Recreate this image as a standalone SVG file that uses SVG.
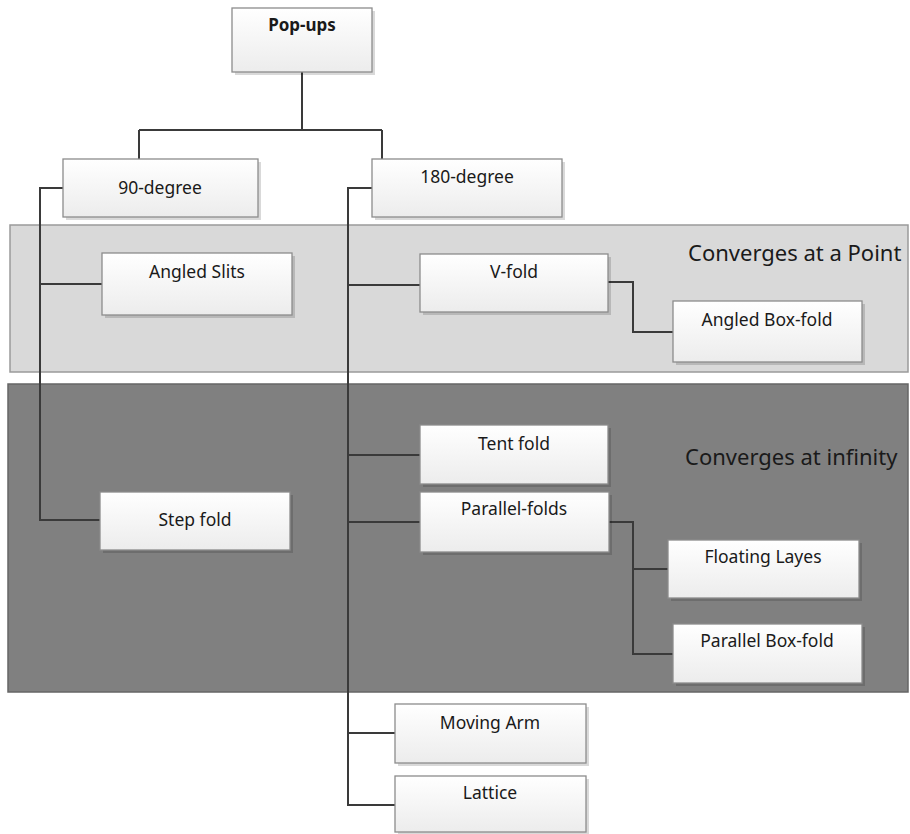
<svg xmlns="http://www.w3.org/2000/svg" width="910" height="834" viewBox="0 0 910 834">
<defs>
<linearGradient id="g" x1="0" y1="0" x2="0" y2="1">
<stop offset="0" stop-color="#ffffff"/>
<stop offset="1" stop-color="#ececec"/>
</linearGradient>
</defs>
<style>
.box{fill:url(#g);stroke:#8c8c8c;stroke-width:1.3}
.sh{fill:#000;opacity:0.15}
.t{font-family:"Noto Sans","Open Sans",sans-serif;font-size:17.5px;fill:#1a1a1a;text-anchor:middle}
.b{font-weight:bold;font-size:17px}
.band{font-family:"Noto Sans","Open Sans",sans-serif;font-size:22px;fill:#1a1a1a}
.c{fill:none;stroke:#3a3a3a;stroke-width:2}
</style>
<rect width="910" height="834" fill="#ffffff"/>
<g id="band-point">
<rect x="10" y="225" width="898" height="147" fill="#d9d9d9" stroke="#9a9a9a" stroke-width="1.5"/>
<text class="band" x="688" y="261">Converges at a Point</text>
</g>
<g id="band-infinity">
<rect x="8" y="384" width="900" height="308" fill="#808080" stroke="#666" stroke-width="1.5"/>
<text class="band" x="685" y="465">Converges at infinity</text>
</g>
<g id="connectors">
<path class="c" d="M302 72 V130 M139 130 H382 M139 130 V159 M382 130 V159"/>
<path class="c" d="M63 188 H40 V520 H100 M40 284 H102"/>
<path class="c" d="M372 188 H348 V805 H395 M348 285 H420 M348 455 H420 M348 522 H420 M348 733 H395"/>
<path class="c" d="M608 282 H633 V332 H673"/>
<path class="c" d="M609 522 H633 V654 H673 M633 569 H668"/>
</g>
<g id="n-popups"><rect class="sh" x="235" y="11" width="140" height="64"/><rect class="box" x="232" y="8" width="140" height="64"/><text class="t b" x="302" y="31">Pop-ups</text></g>
<g id="n-90"><rect class="sh" x="66" y="162" width="195" height="58"/><rect class="box" x="63" y="159" width="195" height="58"/><text class="t" x="160" y="194">90-degree</text></g>
<g id="n-180"><rect class="sh" x="375" y="162" width="190" height="58"/><rect class="box" x="372" y="159" width="190" height="58"/><text class="t" x="467" y="183">180-degree</text></g>
<g id="n-angled-slits"><rect class="sh" x="105" y="256" width="190" height="62"/><rect class="box" x="102" y="253" width="190" height="62"/><text class="t" x="197" y="278">Angled Slits</text></g>
<g id="n-vfold"><rect class="sh" x="423" y="257" width="188" height="58"/><rect class="box" x="420" y="254" width="188" height="58"/><text class="t" x="514" y="278">V-fold</text></g>
<g id="n-angled-box"><rect class="sh" x="676" y="304" width="189" height="61"/><rect class="box" x="673" y="301" width="189" height="61"/><text class="t" x="767" y="326">Angled Box-fold</text></g>
<g id="n-tent"><rect class="sh" x="423" y="428" width="188" height="59"/><rect class="box" x="420" y="425" width="188" height="59"/><text class="t" x="514" y="450">Tent fold</text></g>
<g id="n-step"><rect class="sh" x="103" y="495" width="190" height="58"/><rect class="box" x="100" y="492" width="190" height="58"/><text class="t" x="195" y="526">Step fold</text></g>
<g id="n-parallel"><rect class="sh" x="423" y="495" width="189" height="60"/><rect class="box" x="420" y="492" width="189" height="60"/><text class="t" x="514" y="515">Parallel-folds</text></g>
<g id="n-floating"><rect class="sh" x="671" y="543" width="191" height="58"/><rect class="box" x="668" y="540" width="191" height="58"/><text class="t" x="763" y="563">Floating Layes</text></g>
<g id="n-parallel-box"><rect class="sh" x="676" y="627" width="189" height="59"/><rect class="box" x="673" y="624" width="189" height="59"/><text class="t" x="767" y="647">Parallel Box-fold</text></g>
<g id="n-moving"><rect class="sh" x="398" y="707" width="191" height="59"/><rect class="box" x="395" y="704" width="191" height="59"/><text class="t" x="490" y="729">Moving Arm</text></g>
<g id="n-lattice"><rect class="sh" x="398" y="779" width="191" height="58"/><rect class="box" x="395" y="776" width="191" height="56"/><text class="t" x="490" y="799">Lattice</text></g>
</svg>
